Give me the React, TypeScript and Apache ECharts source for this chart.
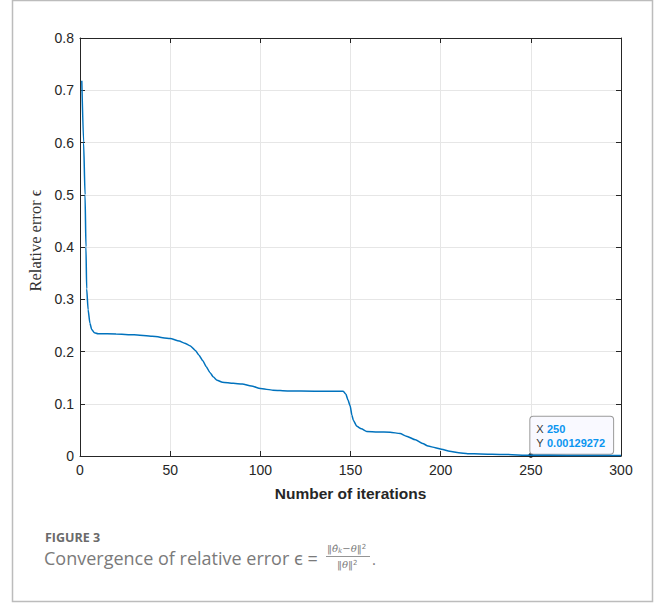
import React, { useEffect, useRef } from "react";
import * as echarts from "echarts";

const iterations = [
  1, 2, 2.8, 3.3, 3.7, 4.5, 5.5, 6.5, 8, 10, 20, 30, 40, 50, 55, 58, 61, 64, 66, 68, 70, 72, 74, 76, 79, 85, 90, 95,
  100, 107, 115, 130, 146, 147.5, 148.5, 149.8, 150.8, 151.6, 153.5, 156, 159, 165, 172, 177.5, 181, 186, 190,
  193, 197, 200.5, 205, 210, 215, 222, 235, 250, 270, 300,
];
const relError = [
  0.718, 0.6, 0.5, 0.4, 0.32, 0.28, 0.254, 0.242, 0.236, 0.234, 0.2335, 0.232, 0.229, 0.225, 0.22, 0.216, 0.211,
  0.202, 0.193, 0.183, 0.171, 0.16, 0.151, 0.145, 0.141, 0.139, 0.138, 0.134, 0.129, 0.126, 0.1245, 0.124, 0.1238,
  0.118, 0.108, 0.096, 0.078, 0.068, 0.057, 0.052, 0.047, 0.046, 0.0455, 0.043, 0.038, 0.031, 0.024, 0.019, 0.016,
  0.013, 0.009, 0.006, 0.0045, 0.004, 0.003, 0.00129272, 0.0011, 0.001,
];
const tipX = 250;
const tipY = 0.00129272;

const xTicks = { min: 0, max: 300, interval: 50 };
const yTicks = { min: 0, max: 0.8, interval: 0.1 };

const AXIS = "#262626";
const GRIDC = "#e6e6e6";
const SANS = "'Liberation Sans', Arial, Helvetica, sans-serif";
const CAP = "#7a7a7a";

export default function App() {
  const ref = useRef<HTMLDivElement>(null);
  useEffect(() => {
    if (!ref.current) return;
    const chart = echarts.init(ref.current, undefined, { renderer: "svg" });
    const data = iterations.map((x, i) => [x, relError[i]]);
    const hiddenAxisCommon = {
      axisLine: { show: true, onZero: false, lineStyle: { color: AXIS, width: 1 } },
      axisTick: { show: true, inside: true, length: 5, lineStyle: { color: AXIS } },
      axisLabel: { show: false },
      splitLine: { show: false },
    };
    chart.setOption({
      animation: false,
      backgroundColor: "#ffffff",
      grid: { left: 80, top: 38, right: 35, bottom: 147, containLabel: false },
      xAxis: [
        {
          type: "value",
          min: xTicks.min,
          max: xTicks.max,
          interval: xTicks.interval,
          position: "bottom",
          name: "Number of iterations",
          nameLocation: "middle",
          nameGap: 29,
          nameTextStyle: { fontFamily: SANS, fontWeight: "bold", fontSize: 15.5, color: AXIS },
          axisLine: { show: true, onZero: false, lineStyle: { color: AXIS, width: 1 } },
          axisTick: { show: true, inside: true, length: 5, lineStyle: { color: AXIS } },
          axisLabel: { fontFamily: SANS, fontSize: 14, color: AXIS, margin: 7 },
          splitLine: { show: true, lineStyle: { color: GRIDC, width: 1 } },
        },
        {
          type: "value",
          min: xTicks.min,
          max: xTicks.max,
          interval: xTicks.interval,
          position: "top",
          ...hiddenAxisCommon,
        },
      ],
      yAxis: [
        {
          type: "value",
          min: yTicks.min,
          max: yTicks.max,
          interval: yTicks.interval,
          position: "left",
          name: "Relative error ϵ",
          nameLocation: "middle",
          nameGap: 33,
          nameTextStyle: {
            fontFamily: "'Liberation Serif', 'Times New Roman', serif",
            fontSize: 16.5,
            color: "#333333",
            padding: [0, 0, 0, 13],
          },
          axisLine: { show: true, onZero: false, lineStyle: { color: AXIS, width: 1 } },
          axisTick: { show: true, inside: true, length: 5, lineStyle: { color: AXIS } },
          axisLabel: {
            fontFamily: SANS,
            fontSize: 14,
            color: AXIS,
            margin: 6,
            formatter: (v: number) => (v === 0 ? "0" : String(Math.round(v * 10) / 10)),
          },
          splitLine: { show: true, lineStyle: { color: GRIDC, width: 1 } },
        },
        {
          type: "value",
          min: yTicks.min,
          max: yTicks.max,
          interval: yTicks.interval,
          position: "right",
          ...hiddenAxisCommon,
        },
      ],
      series: [
        {
          type: "line",
          data,
          showSymbol: false,
          smooth: 0.2,
          smoothMonotone: "x",
          lineStyle: { color: "#0072BD", width: 1.5 },
          z: 5,
          markPoint: {
            symbol: "circle",
            symbolSize: 5,
            itemStyle: { color: "#1a1a1a" },
            data: [{ coord: [tipX, tipY], value: tipY }],
            label: {
              show: true,
              position: [2, -36],
              formatter: `{l|X} {v|${tipX}}\n{l|Y} {v|${tipY}}`,
              backgroundColor: "#f9f9ff",
              borderColor: "#9a9a9a",
              borderWidth: 1,
              borderRadius: 3,
              padding: [5, 8, 4, 6],
              rich: {
                l: { fontFamily: SANS, fontSize: 11, color: "#3a3a3a", lineHeight: 14 },
                v: { fontFamily: SANS, fontSize: 11, color: "#0a95f0", fontWeight: "bold", lineHeight: 14 },
              },
            },
          },
        },
      ],
      graphic: [
        {
          type: "rect",
          shape: { x: 12.5, y: 0.5, width: 640, height: 601 },
          style: { fill: "none", stroke: "#bcbcbc", lineWidth: 1.5 },
          silent: true,
        },
        {
          type: "text",
          x: 45,
          y: 531,
          style: {
            text: "FIGURE 3",
            fontFamily: "'Open Sans', 'Noto Sans', sans-serif",
            fontWeight: "bold",
            fontSize: 12.5,
            fill: "#6a6a6a",
          },
        },
        {
          type: "text",
          x: 44,
          y: 549,
          style: {
            text: "Convergence of relative error ϵ =",
            fontFamily: "'Open Sans', 'Noto Sans', sans-serif",
            fontSize: 18,
            fill: CAP,
          },
        },
        {
          type: "text",
          x: 327,
          y: 543,
          style: {
            text: "{a|‖θ̂}{s|k}{a|−θ‖}{p|2}",
            rich: {
              a: { fontFamily: "'DejaVu Serif', serif", fontStyle: "italic", fontSize: 10, fill: CAP },
              s: {
                fontFamily: "'DejaVu Serif', serif",
                fontStyle: "italic",
                fontSize: 7,
                fill: CAP,
                verticalAlign: "bottom",
                padding: [4, 0, 0, 0],
              },
              p: {
                fontFamily: "'DejaVu Sans', sans-serif",
                fontSize: 7,
                fill: CAP,
                verticalAlign: "top",
                padding: [0, 0, 4, 0],
              },
            },
          },
        },
        {
          type: "line",
          shape: { x1: 326, y1: 556.5, x2: 370, y2: 556.5 },
          style: { stroke: CAP, lineWidth: 0.8 },
        },
        {
          type: "text",
          x: 337,
          y: 559,
          style: {
            text: "{a|‖θ‖}{p|2}",
            rich: {
              a: { fontFamily: "'DejaVu Serif', serif", fontStyle: "italic", fontSize: 10, fill: CAP },
              p: {
                fontFamily: "'DejaVu Sans', sans-serif",
                fontSize: 7,
                fill: CAP,
                verticalAlign: "top",
                padding: [0, 0, 4, 0],
              },
            },
          },
        },
        {
          type: "text",
          x: 372,
          y: 551,
          style: { text: ".", fontFamily: "'Open Sans', sans-serif", fontSize: 15, fill: CAP },
        },
      ],
    });
    return () => chart.dispose();
  }, []);
  return <div ref={ref} style={{ position: "fixed", left: 0, top: 0, width: 656, height: 603 }} />;
}
